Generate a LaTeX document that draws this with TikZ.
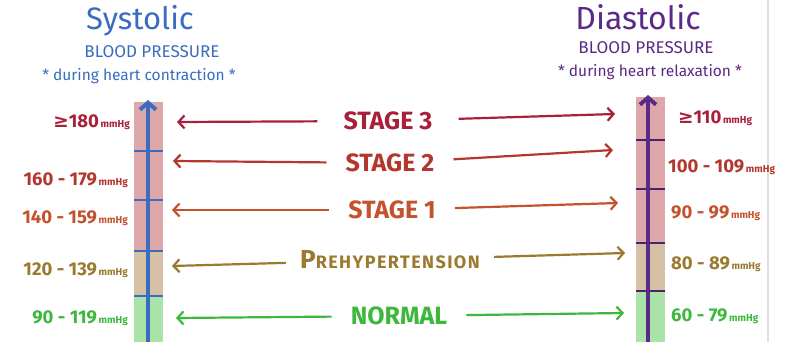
\documentclass[tikz,border=0pt]{standalone}
\usepackage{fontspec}
\setmainfont{Fira Sans}
\newfontfamily\symfnt{DejaVu Sans}
\usetikzlibrary{arrows.meta}

\definecolor{sysblue}{HTML}{3A6CC0}
\definecolor{diapurple}{HTML}{5B2A86}
\definecolor{cthree}{HTML}{A8203A}
\definecolor{ctwo}{HTML}{B3372E}
\definecolor{cone}{HTML}{C4522C}
\definecolor{cpre}{HTML}{9A7A2E}
\definecolor{cnorm}{HTML}{3DB83D}
\definecolor{hotfill}{HTML}{DEA7AA}
\definecolor{prefill}{HTML}{D6C0A6}
\definecolor{okfill}{HTML}{AAE3A8}

\newcommand{\mmhg}{{\fontsize{10}{11}\selectfont\,mmHg}}
\newcommand{\geqs}{{\symfnt\bfseries ≥}}

\tikzset{
  title/.style={font=\fontsize{31}{32}\selectfont, inner sep=0pt},
  subtitle/.style={font=\fontsize{17}{18}\selectfont, inner sep=0pt},
  note/.style={font=\fontsize{15.5}{16}\selectfont, inner sep=0pt},
  lab/.style={font=\fontsize{18.5}{20}\selectfont\bfseries, inner sep=0pt},
  stage/.style={font=\fontsize{25}{28}\selectfont\bfseries, inner xsep=19pt, inner ysep=0pt},
  harrow/.style={line width=2.2pt, -{Straight Barb[length=6pt,width=13pt]}},
  axis/.style={line width=4pt, -{Straight Barb[length=7pt,width=16pt]}},
  tick/.style={line width=1.3pt}
}

\begin{document}
\begin{tikzpicture}[x=1pt,y=-1pt]
\useasboundingbox (0,0) rectangle (790,342);
\fill[white] (0,0) rectangle (790,342);
\draw[gray!25, line width=1.5pt] (768,0) -- (768,342);

\node[title, text=sysblue] (sys) at (140,21) {Systolic};
\node[subtitle, text=sysblue] (sysbp) at (152,52) {BLOOD PRESSURE};
\node[note, text=sysblue] (sysnote) at (139,76) {* during heart contraction *};

\node[title, text=diapurple, font=\fontsize{32}{34}\selectfont] (dia) at (638,17) {Diastolic};
\node[subtitle, text=diapurple] (diabp) at (646,48) {BLOOD PRESSURE};
\node[note, text=diapurple] (dianote) at (650,72) {* during heart relaxation *};

\fill[hotfill] (134,102) rectangle (163,251);
\fill[prefill] (134,251) rectangle (163,296);
\fill[okfill] (134,296) rectangle (163,342);
\foreach \y in {151,200,251,296}
  \draw[tick, sysblue] (134,\y) -- (163,\y);
\coordinate (sbot) at (148,342);
\coordinate (stop) at (148,100);
\draw[axis, sysblue] (sbot) -- (stop);

\fill[hotfill] (636,97) rectangle (665,243);
\fill[prefill] (636,243) rectangle (665,291);
\fill[okfill] (636,291) rectangle (665,342);
\foreach \y in {140,189,243,291}
  \draw[tick, diapurple!80!black] (636,\y) -- (665,\y);
\coordinate (dbot) at (648,342);
\coordinate (dtop) at (648,95);
\draw[axis, diapurple] (dbot) -- (dtop);

\node[lab, anchor=east, text=cthree] (s180) at (130,122) {\geqs 180\mmhg};
\node[lab, anchor=east, text=ctwo] (s160) at (128,180) {160 - 179\mmhg};
\node[lab, anchor=east, text=cone] (s140) at (128,218) {140 - 159\mmhg};
\node[lab, anchor=east, text=cpre] (s120) at (128,270) {120 - 139\mmhg};
\node[lab, anchor=east, text=cnorm] (s90) at (128,318) {90 - 119\mmhg};

\node[lab, anchor=west, text=cthree] (d110) at (678,118) {\geqs 110\mmhg};
\node[lab, anchor=west, text=ctwo] (d100) at (668,167) {100 - 109\mmhg};
\node[lab, anchor=west, text=cone] (d90) at (671,213) {90 - 99\mmhg};
\node[lab, anchor=west, text=cpre] (d80) at (671,264) {80 - 89\mmhg};
\node[lab, anchor=west, text=cnorm] (d60) at (671,316) {60 - 79\mmhg};

\node[stage, text=cthree, inner xsep=26pt] (st3) at (388,121) {STAGE 3};
\node[stage, text=ctwo] (st2) at (390,163) {STAGE 2};
\node[stage, text=cone] (st1) at (392,210) {STAGE 1};
\node[stage, text=cpre, inner xsep=14pt] (pre) at (390,260)
  {{\fontsize{26}{28}\selectfont P}{\fontsize{18}{20}\selectfont\addfontfeatures{LetterSpace=8}REHYPERTENSION}};
\node[stage, text=cnorm] (nor) at (399,316) {NORMAL};

\coordinate (st3l) at (177,122); \coordinate (st3r) at (615,114);
\coordinate (st2l) at (173,161); \coordinate (st2r) at (613,150);
\coordinate (st1l) at (172,210); \coordinate (st1r) at (618,203);
\coordinate (prel) at (172,266); \coordinate (prer) at (625,253);
\coordinate (norl) at (176,318); \coordinate (norr) at (624,313);

\draw[harrow, cthree] (st3) -- (st3l);
\draw[harrow, cthree] (st3) -- (st3r);
\draw[harrow, ctwo] (st2) -- (st2l);
\draw[harrow, ctwo] (st2) -- (st2r);
\draw[harrow, cone] (st1) -- (st1l);
\draw[harrow, cone] (st1) -- (st1r);
\draw[harrow, cpre] (pre) -- (prel);
\draw[harrow, cpre] (pre) -- (prer);
\draw[harrow, cnorm] (nor) -- (norl);
\draw[harrow, cnorm] (nor) -- (norr);

\end{tikzpicture}
\end{document}
